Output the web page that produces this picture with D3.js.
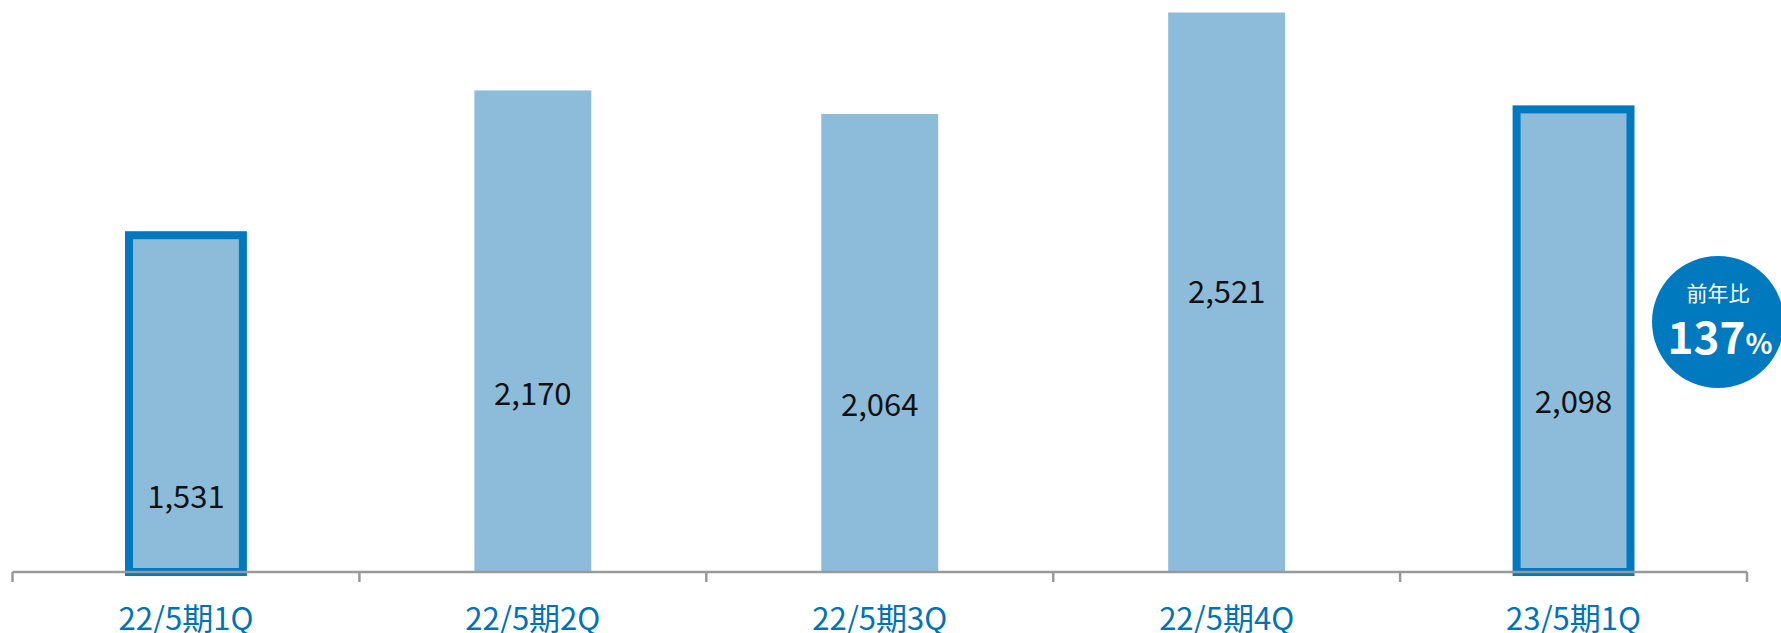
<!DOCTYPE html>
<html>
<head>
<meta charset="utf-8">
<script src="https://cdn.jsdelivr.net/npm/d3@7"></script>
<style>
  body { margin: 0; background: #fff; }
  svg { display: block; font-family: "Noto Sans CJK JP", "DejaVu Sans", sans-serif; }
</style>
</head>
<body>
<div id="chart"></div>
<script>
const width = 1781;
const height = 633;

// data
const periods = ["22/5期1Q", "22/5期2Q", "22/5期3Q", "22/5期4Q", "23/5期1Q"];
const sales = [1531, 2170, 2064, 2521, 2098];
const highlighted = [true, false, false, false, true];
const yoyText = "前年比";
const yoyValue = "137";

// where the value label sits inside each bar, in value units
const labelAt = [338, 802, 752, 1261, 765];

const baseY = 572;
const lightBlue = "#8DBCDA";
const darkBlue = "#0079BF";

const svg = d3
  .select("#chart")
  .append("svg")
  .attr("width", width)
  .attr("height", height);

const x = d3
  .scaleBand()
  .domain(periods)
  .range([12.5, 1747])
  .paddingInner(0.663)
  .paddingOuter(0.3315);

const y = d3.scaleLinear().domain([0, 2521]).range([baseY, 12.5]);

// bars
svg
  .selectAll(".bar")
  .data(periods)
  .enter()
  .append("rect")
  .attr("class", "bar")
  .attr("x", (d) => x(d))
  .attr("y", (d, i) => y(sales[i]))
  .attr("width", x.bandwidth())
  .attr("height", (d, i) => baseY - y(sales[i]))
  .attr("fill", lightBlue);

// outlined bars (outline sits mostly inside, a bit outside)
svg
  .selectAll(".outline")
  .data(periods.filter((d, i) => highlighted[i]))
  .enter()
  .append("rect")
  .attr("class", "outline")
  .attr("x", (d) => x(d) + 1.5)
  .attr("y", (d) => y(sales[periods.indexOf(d)]) + 3)
  .attr("width", x.bandwidth() - 3)
  .attr("height", (d) => baseY - y(sales[periods.indexOf(d)]) - 3)
  .attr("fill", "none")
  .attr("stroke", darkBlue)
  .attr("stroke-width", 8);

// value labels
svg
  .selectAll(".value")
  .data(periods)
  .enter()
  .append("text")
  .attr("class", "value")
  .attr("x", (d) => x(d) + x.bandwidth() / 2)
  .attr("y", (d, i) => y(labelAt[i]))
  .attr("dy", "0.36em")
  .attr("text-anchor", "middle")
  .style("font-size", "31px")
  .style("fill", "#111")
  .text((d, i) => d3.format(",")(sales[i]));

// axis line and ticks at the category edges
const step = x.step();
const left = x.range()[0];
svg
  .append("line")
  .attr("x1", left)
  .attr("x2", left + step * periods.length)
  .attr("y1", baseY)
  .attr("y2", baseY)
  .attr("stroke", "#999")
  .attr("stroke-width", 2.5);

svg
  .selectAll(".tick")
  .data(d3.range(periods.length + 1))
  .enter()
  .append("line")
  .attr("class", "tick")
  .attr("x1", (i) => left + i * step)
  .attr("x2", (i) => left + i * step)
  .attr("y1", baseY)
  .attr("y2", baseY + 10)
  .attr("stroke", "#999")
  .attr("stroke-width", 2.5);

svg
  .selectAll(".cat")
  .data(periods)
  .enter()
  .append("text")
  .attr("class", "cat")
  .attr("x", (d) => x(d) + x.bandwidth() / 2)
  .attr("y", 630)
  .attr("text-anchor", "middle")
  .style("font-size", "31px")
  .style("fill", "#0072B5")
  .text((d) => d);

// year-on-year badge
const badge = svg.append("g").attr("transform", "translate(1718, 322)");
badge.append("circle").attr("r", 66).attr("fill", darkBlue);
badge
  .append("text")
  .attr("y", -21)
  .attr("text-anchor", "middle")
  .style("font-size", "21px")
  .style("fill", "#fff")
  .text(yoyText);
const pct = badge
  .append("text")
  .attr("y", 32)
  .attr("x", 2)
  .attr("text-anchor", "middle")
  .style("fill", "#fff")
  .style("font-weight", "bold");
pct.append("tspan").style("font-size", "44px").text(yoyValue);
pct.append("tspan").style("font-size", "28px").text("%");
</script>
</body>
</html>
